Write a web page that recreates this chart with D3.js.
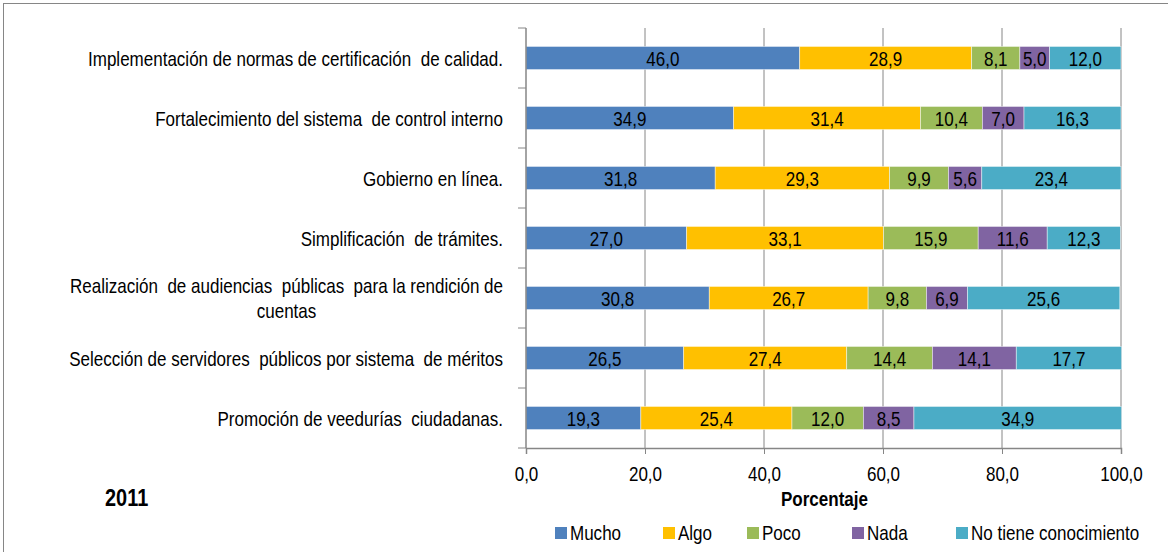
<!DOCTYPE html>
<html lang="es">
<head>
<meta charset="utf-8" />
<script src="https://d3js.org/d3.v7.min.js"></script>
<style>
  html, body { margin: 0; padding: 0; background: #fff; }
  svg text { font-family: "Liberation Sans", Arial, sans-serif; white-space: pre; }
</style>
</head>
<body>
<svg id="canvas" width="1168" height="552"></svg>
<script>
// categories, top to bottom
var categorias = [
  ["Implementación de normas de certificación  de calidad."],
  ["Fortalecimiento del sistema  de control interno"],
  ["Gobierno en línea."],
  ["Simplificación  de trámites."],
  ["Realización  de audiencias  públicas  para la rendición de", "cuentas"],
  ["Selección de servidores  públicos por sistema  de méritos"],
  ["Promoción de veedurías  ciudadanas."]
];
var series = ["Mucho", "Algo", "Poco", "Nada", "No tiene conocimiento"];
var mucho = [46.0, 34.9, 31.8, 27.0, 30.8, 26.5, 19.3];
var algo  = [28.9, 31.4, 29.3, 33.1, 26.7, 27.4, 25.4];
var poco  = [8.1, 10.4, 9.9, 15.9, 9.8, 14.4, 12.0];
var nada  = [5.0, 7.0, 5.6, 11.6, 6.9, 14.1, 8.5];
var noTiene = [12.0, 16.3, 23.4, 12.3, 25.6, 17.7, 34.9];
var ticks = [0, 20, 40, 60, 80, 100];
var colores = ["#4F81BD", "#FFC000", "#9BBB59", "#8064A2", "#4BACC6"];

var valores = [mucho, algo, poco, nada, noTiene];
var fmt = function(v){ return d3.format(".1f")(v).replace(".", ","); };

var svg = d3.select("#canvas");
var mLeft = 526, mRight = 1121, mTop = 28, mBottom = 448;
var FS = 20.5, SX = 0.83;   // narrow look: taller font squeezed horizontally

// text helper, squeezed around its anchor point
function narrow(parent, px, py, anchor, txt, size, bold) {
  return parent.append("text")
    .attr("transform", "translate(" + px + "," + py + ") scale(" + SX + ",1)")
    .attr("text-anchor", anchor || "start")
    .attr("font-size", size || FS)
    .attr("font-weight", bold ? "bold" : null)
    .attr("fill", "#000")
    .text(txt);
}

// chart border
svg.append("rect").attr("x", 3.5).attr("y", 3.5).attr("width", 1170).attr("height", 560)
  .attr("fill", "none").attr("stroke", "#868686").attr("stroke-width", 1);

var x = d3.scaleLinear().domain([0, 100]).range([mLeft, mRight]);
var y = d3.scaleBand().domain(d3.range(categorias.length)).range([mTop, mBottom]).paddingInner(0.615).paddingOuter(0.3075);

// gridlines
svg.append("g").selectAll("line").data(ticks.slice(1)).enter().append("line")
  .attr("x1", d => x(d)).attr("x2", d => x(d)).attr("y1", mTop).attr("y2", mBottom)
  .attr("stroke", "#868686").attr("stroke-width", 1);

// stacked data
var rows = categorias.map(function(c, i){
  var o = {i: i};
  series.forEach(function(s, k){ o[s] = valores[k][i]; });
  return o;
});
var stack = d3.stack().keys(series)(rows);

var g = svg.append("g");
stack.forEach(function(layer, k){
  g.append("g").selectAll("rect").data(layer).enter().append("rect")
    .attr("x", d => x(d[0]))
    .attr("width", d => x(d[1]) - x(d[0]))
    .attr("y", d => y(d.data.i))
    .attr("height", y.bandwidth())
    .attr("fill", colores[k])
    .attr("stroke", "#fff").attr("stroke-opacity", 0.6).attr("stroke-width", 0.75);
});
stack.forEach(function(layer){
  var tg = g.append("g");
  layer.forEach(function(d){
    narrow(tg, (x(d[0]) + x(d[1])) / 2, y(d.data.i) + y.bandwidth() / 2 + 7.5, "middle", fmt(d[1] - d[0]));
  });
});

// left axis
svg.append("line").attr("x1", mLeft).attr("x2", mLeft).attr("y1", mTop).attr("y2", mBottom)
  .attr("stroke", "#868686").attr("stroke-width", 1.5);
var bandStep = (mBottom - mTop) / categorias.length;
svg.append("g").selectAll("line").data(d3.range(categorias.length + 1)).enter().append("line")
  .attr("x1", mLeft - 8).attr("x2", mLeft).attr("y1", d => mTop + d * bandStep).attr("y2", d => mTop + d * bandStep)
  .attr("stroke", "#868686").attr("stroke-width", 1);

// category labels
var labs = svg.append("g");
categorias.forEach(function(lines, i){
  var cy = y(i) + y.bandwidth() / 2;
  if (lines.length === 1) {
    narrow(labs, 503, cy + 7.5, "end", lines[0]);
  } else {
    var t1 = narrow(labs, 503, cy - 5.5, "end", lines[0]);
    var w = t1.node().getComputedTextLength() * SX;
    narrow(labs, 503 - w / 2, cy + 19.5, "middle", lines[1]);
  }
});

// bottom axis
var xAxis = d3.axisBottom(x).tickValues(ticks).tickSize(6).tickFormat(fmt);
var ax = svg.append("g").attr("transform", "translate(0," + mBottom + ")").call(xAxis);
ax.select(".domain").attr("stroke", "#868686").attr("stroke-width", 1.5);
ax.selectAll(".tick line").attr("stroke", "#868686");
ax.selectAll(".tick text").remove();
ax.selectAll(".tick").each(function(d){
  narrow(d3.select(this), 0, 33, "middle", fmt(d));
});

narrow(svg, (mLeft + mRight) / 2 + 1, 506, "middle", "Porcentaje", FS, true);
narrow(svg, 105, 506, "start", "2011", 24, true);

// legend
var legX = [555, 663, 747, 852, 956];
var leg = svg.append("g").selectAll("g").data(series).enter().append("g")
  .attr("transform", (d, k) => "translate(" + legX[k] + ",527)");
leg.append("rect").attr("width", 12).attr("height", 12).attr("fill", (d, k) => colores[k]);
leg.each(function(d){ narrow(d3.select(this), 15, 13, "start", d); });
</script>
</body>
</html>
